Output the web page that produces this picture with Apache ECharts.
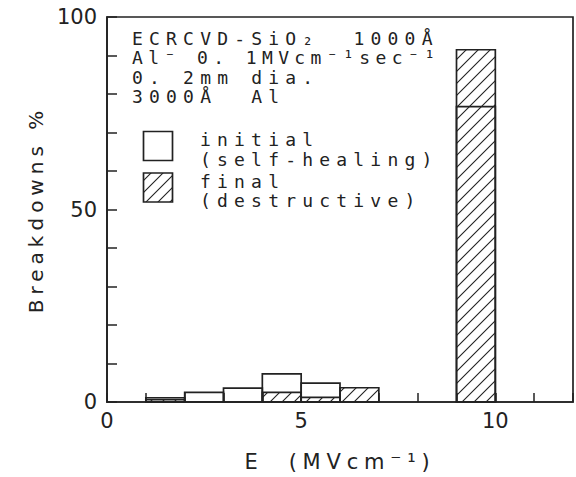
<!DOCTYPE html>
<html>
<head>
<meta charset="utf-8">
<script src="https://cdn.jsdelivr.net/npm/echarts@6/dist/echarts.min.js"></script>
<style>
html,body{margin:0;padding:0;background:#fff;}
#main{width:576px;height:477px;}
</style>
</head>
<body>
<div id="main"></div>
<script>
// ---- data ----
const binStart   = [1, 2, 3, 4, 5, 6, 9];
const binEnd     = [2, 3, 4, 5, 6, 7, 10];
const initialPct = [1.1, 2.5, 3.6, 7.3, 4.9, 0, 76.7];   // initial (self-healing), outline
const finalPct   = [0.6, 0, 0, 2.5, 1.2, 3.7, 91.5];     // final (destructive), hatched
const xTickLabels = [0, 5, 10];
const yTickLabels = [0, 50, 100];
const noteLines = ['ECRCVD-SiO₂  1000Å', 'Al⁻ 0. 1MVcm⁻¹sec⁻¹', '0. 2mm dia.', '3000Å  Al'];
const legendLines = [['initial', '(self-healing)'], ['final', '(destructive)']];
const xName = 'E  (MVcm⁻¹)';
const yName = 'Breakdowns %';

// ---- styling ----
const INK = '#222';
const MONO = "'DejaVu Sans Mono', monospace";
const SANS = "'DejaVu Sans', sans-serif";

function makeHatch() {
  const c = document.createElement('canvas');
  c.width = 12; c.height = 12;
  const g = c.getContext('2d');
  g.strokeStyle = INK; g.lineWidth = 1.1;
  g.beginPath();
  g.moveTo(0, 12); g.lineTo(12, 0);
  g.moveTo(-6, 6); g.lineTo(6, -6);
  g.moveTo(6, 18); g.lineTo(18, 6);
  g.stroke();
  return c;
}
const hatch = { image: makeHatch(), repeat: 'repeat' };

function rows(vals) {
  return binStart.map((s, i) => [s, binEnd[i], vals[i]]).filter(d => d[2] > 0);
}
function barRenderer(fill) {
  return function (params, api) {
    const p0 = api.coord([api.value(0), 0]);
    const p1 = api.coord([api.value(1), api.value(2)]);
    return {
      type: 'rect',
      shape: { x: p0[0], y: p1[1], width: p1[0] - p0[0], height: p0[1] - p1[1] },
      style: { fill: fill, stroke: INK, lineWidth: 1.7 }
    };
  };
}

const noteX = 132, noteY = [37.5, 57, 76.5, 96];
const graphics = [];
noteLines.forEach((t, i) => graphics.push({
  type: 'text', left: noteX, top: noteY[i] - 8.5,
  style: { text: t, font: '18px ' + MONO, fill: INK, lineHeight: 17 }
}));
const boxY = [131.5, 173];
legendLines.forEach((pair, i) => {
  graphics.push({
    type: 'rect', shape: { x: 143.5, y: boxY[i], width: 29, height: 29 },
    style: { fill: i === 0 ? '#fff' : hatch, stroke: INK, lineWidth: 1.7 }
  });
  pair.forEach((t, j) => graphics.push({
    type: 'text', left: 200, top: boxY[i] - 1 + j * 19.5,
    style: { text: t, font: '18px ' + MONO, fill: INK, lineHeight: 17 }
  }));
});

const chart = echarts.init(document.getElementById('main'), null, { renderer: 'svg' });
chart.setOption({
  animation: false,
  backgroundColor: '#fff',
  grid: { left: 107, top: 17, width: 466, height: 385, show: true, borderColor: INK, borderWidth: 1.7 },
  xAxis: {
    type: 'value', min: 0, max: 12, interval: 1,
    name: xName, nameLocation: 'middle', nameGap: 49,
    nameTextStyle: { fontFamily: SANS, fontSize: 21, color: INK },
    axisLine: { lineStyle: { color: INK, width: 1.7 } },
    axisTick: { inside: true, length: 9, lineStyle: { color: INK, width: 1.5 } },
    axisLabel: { formatter: v => xTickLabels.includes(v) ? String(v) : '', fontFamily: SANS, fontSize: 21, color: INK, margin: 8 },
    splitLine: { show: false }
  },
  yAxis: {
    type: 'value', min: 0, max: 100, interval: 10,
    name: yName, nameLocation: 'middle', nameGap: 55,
    nameTextStyle: { fontFamily: SANS, fontSize: 20, color: INK },
    axisLine: { show: true, lineStyle: { color: INK, width: 1.7 } },
    axisTick: { show: true, inside: true, length: 10, lineStyle: { color: INK, width: 1.5 } },
    axisLabel: { formatter: v => yTickLabels.includes(v) ? String(v) : '', fontFamily: SANS, fontSize: 21, color: INK, margin: 10 },
    splitLine: { show: false }
  },
  series: [
    { type: 'custom', name: 'final (destructive)', data: rows(finalPct), encode: { x: [0, 1], y: 2 }, renderItem: barRenderer(hatch), z: 2 },
    { type: 'custom', name: 'initial (self-healing)', data: rows(initialPct), encode: { x: [0, 1], y: 2 }, renderItem: barRenderer('none'), z: 3 }
  ],
  graphic: graphics
});

// letter spacing of the typewriter-style lettering
const spacing = {};
noteLines.forEach(t => spacing[t] = 6.2);
spacing[noteLines[1]] = 5.4;
legendLines.flat().forEach(t => spacing[t] = 6.2);
spacing[xName] = 5.8;
spacing[yName] = 5.0;
function applySpacing() {
  document.querySelectorAll('#main text').forEach(el => {
    const s = spacing[el.textContent];
    if (s != null) el.style.letterSpacing = s + 'px';
  });
}
applySpacing();
chart.on('finished', applySpacing);
</script>
</body>
</html>
